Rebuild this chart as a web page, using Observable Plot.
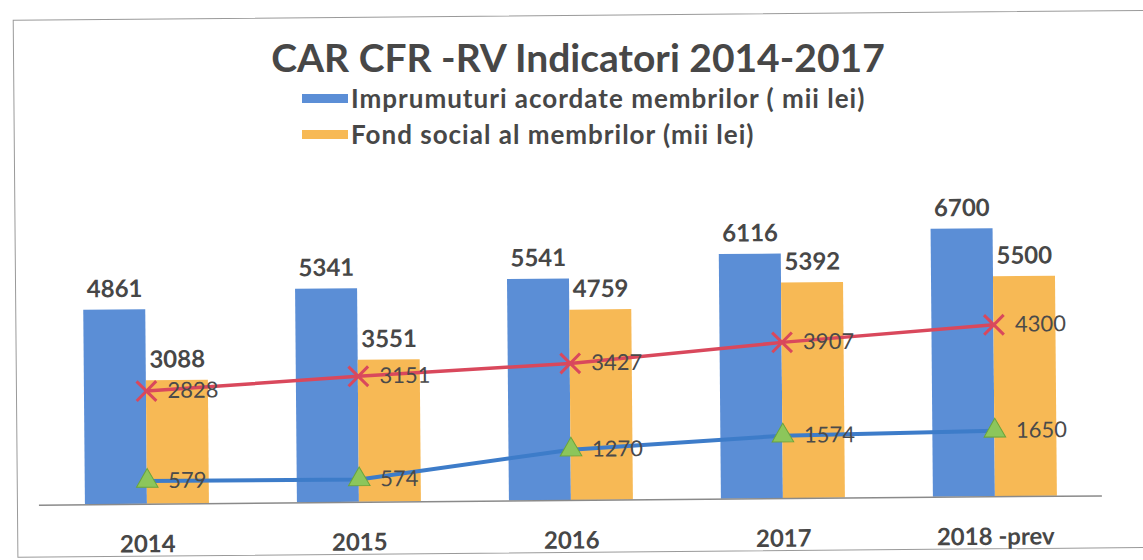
<!DOCTYPE html>
<html>
<head>
<meta charset="utf-8">
<script src="https://cdn.jsdelivr.net/npm/d3@7"></script>
<script src="https://cdn.jsdelivr.net/npm/@observablehq/plot@0.6"></script>
<style>
  html, body { margin: 0; padding: 0; background: #fff; overflow: hidden; }
  #page { position: relative; width: 1143px; height: 560px; background: #fff; font-family: Lato, "Open Sans", sans-serif; }
  #wrap { position: absolute; left: 0; top: 0; width: 1143px; height: 560px; transform: rotate(-0.5deg); transform-origin: 571px 280px; }
  #frame { position: absolute; left: 15px; top: 15px; width: 1150px; height: 538px; border: 1.5px solid #9a9a9a; box-sizing: border-box; }
  #title { position: absolute; top: 41px; left: 578px; transform: translateX(-50%); font-size: 39px; line-height: 0.85; font-weight: 700; color: #474747; white-space: nowrap; }
  .leg { position: absolute; left: 302px; font-size: 26px; line-height: 0.85; letter-spacing: 1px; font-weight: 700; color: #474747; white-space: nowrap; display: flex; align-items: center; }
  .sw { display: inline-block; width: 46px; height: 9px; margin-right: 3px; }
  #chart { position: absolute; left: 0; top: 148px; }
</style>
</head>
<body>
<div id="page">
  <div id="wrap">
    <div id="frame"></div>
    <div id="chart"></div>
  </div>
  <div id="title"></div>
  <div class="leg" id="leg1" style="top:87px"></div>
  <div class="leg" id="leg2" style="top:123px"></div>
</div>
<script>
const titleText = "CAR CFR -RV Indicatori 2014-2017";
const years = ["2014", "2015", "2016", "2017", "2018 -prev"];
const seriesNames = ["Imprumuturi acordate membrilor ( mii lei)", "Fond social al membrilor (mii lei)"];
const imprumuturi = [4861, 5341, 5541, 6116, 6700];
const fondSocial = [3088, 3551, 4759, 5392, 5500];
const serieRosie = [2828, 3151, 3427, 3907, 4300];
const serieAlbastra = [579, 574, 1270, 1574, 1650];

const cBlue = "#5b8ed6", cOrange = "#f7b955", cRed = "#d9485c", cLine = "#3d7cc9", cGreen = "#8cc65b";

document.getElementById("title").textContent = titleText;
document.getElementById("leg1").innerHTML = `<span class="sw" style="background:${cBlue}"></span>${seriesNames[0]}`;
document.getElementById("leg2").innerHTML = `<span class="sw" style="background:${cOrange}"></span>${seriesNames[1]}`;

const barsA = years.map((y, i) => ({year: y, value: imprumuturi[i]}));
const barsB = years.map((y, i) => ({year: y, value: fondSocial[i]}));
const lineR = years.map((y, i) => ({year: y, value: serieRosie[i]}));
const lineB = years.map((y, i) => ({year: y, value: serieAlbastra[i]}));

const half = 62;
const chart = Plot.plot({
  width: 1143,
  height: 412,
  marginLeft: 37,
  marginRight: 43,
  marginTop: 72,
  marginBottom: 60,
  style: {fontFamily: "Lato, 'Open Sans', sans-serif", background: "transparent", overflow: "visible"},
  x: {domain: years, paddingInner: 0.417, paddingOuter: 0.2085, label: null},
  y: {domain: [0, 7000], axis: null},
  marks: [
    Plot.barY(barsA, {x: "year", y: "value", fill: cBlue, insetRight: half}),
    Plot.barY(barsB, {x: "year", y: "value", fill: cOrange, insetLeft: half}),
    Plot.ruleY([0], {stroke: "#8a8a8a", strokeWidth: 1.5}),
    Plot.axisX({tickSize: 0, tickPadding: 31, fontSize: 24, fontWeight: "bold", fill: "#474747", label: null, style: {letterSpacing: "1px"}}),
    Plot.text(barsA, {x: "year", y: "value", text: d => String(d.value), dx: -half / 2, dy: -13, lineAnchor: "bottom", fontSize: 24, fontWeight: "bold", fill: "#474747", style: {letterSpacing: "1px"}}),
    Plot.text(barsB, {x: "year", y: "value", text: d => String(d.value), dx: half / 2, dy: -13, lineAnchor: "bottom", fontSize: 24, fontWeight: "bold", fill: "#474747", style: {letterSpacing: "1px"}}),
    Plot.line(lineR, {x: "year", y: "value", stroke: cRed, strokeWidth: 3.5}),
    Plot.line(lineB, {x: "year", y: "value", stroke: cLine, strokeWidth: 4}),
    Plot.dot(lineR, {x: "year", y: "value", symbol: "times", r: 9, stroke: cRed, strokeWidth: 3}),
    Plot.dot(lineB, {x: "year", y: "value", symbol: "triangle", r: 8, fill: cGreen, stroke: "#6aa43c", strokeWidth: 1}),
    Plot.text(lineR, {x: "year", y: "value", text: d => String(d.value), dx: 21, textAnchor: "start", fontSize: 22, fill: "#4a4a4a", style: {letterSpacing: "0.5px"}}),
    Plot.text(lineB, {x: "year", y: "value", text: d => String(d.value), dx: 21, textAnchor: "start", fontSize: 22, fill: "#4a4a4a", style: {letterSpacing: "0.5px"}})
  ]
});
document.getElementById("chart").appendChild(chart);
</script>
</body>
</html>
